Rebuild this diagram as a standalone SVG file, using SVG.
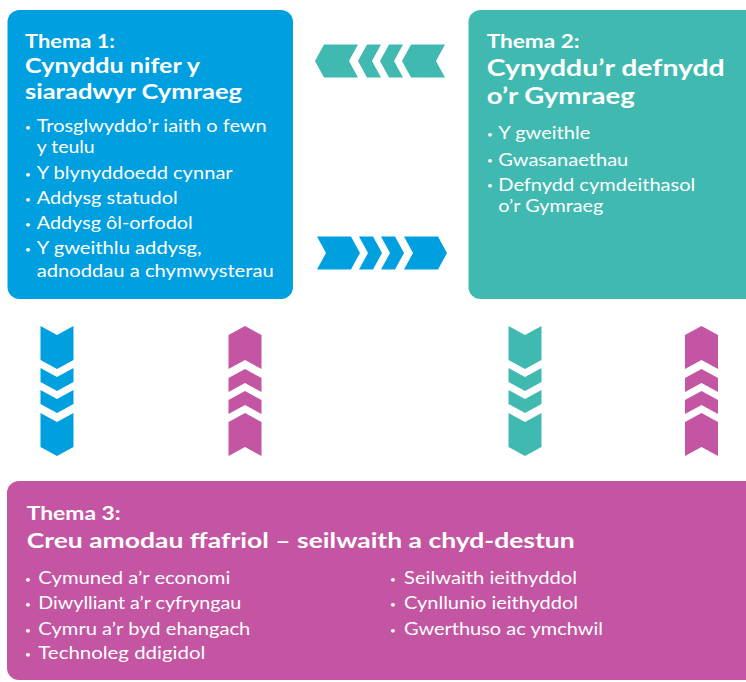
<svg xmlns="http://www.w3.org/2000/svg" width="746" height="682" viewBox="0 0 746 682">
<style>
text{font-family:Lato,"Open Sans","Liberation Sans",sans-serif;fill:#ffffff}
.th{font-weight:700;font-size:19px}
.t1{font-weight:700;font-size:21px}
.t2{font-weight:700;font-size:23px}
.t3{font-weight:700;font-size:21px}
.b{font-size:17.2px}
.dot{font-size:10px}
.blue{fill:#009fe0}
.teal{fill:#40bab1}
.mag{fill:#c455a2}
</style>
<defs>
<g id="chain">
<path d="M0,-16.5 L34,-16.5 L43,0 L34,16.5 L0,16.5 L9,0 Z"/>
<path d="M42,-16.5 L56,-16.5 L65,0 L56,16.5 L42,16.5 L51,0 Z"/>
<path d="M64,-16.5 L78,-16.5 L87,0 L78,16.5 L64,16.5 L73,0 Z"/>
<path d="M87,-16.5 L121,-16.5 L130,0 L121,16.5 L87,16.5 L96,0 Z"/>
</g>
</defs>

<g id="theme1">
<rect class="blue" x="7.5" y="10" width="285.5" height="289" rx="12"/>
<text class="th" x="25" y="47.7" textLength="90" lengthAdjust="spacingAndGlyphs">Thema 1:</text>
<text class="t1" x="25" y="72.7" textLength="175" lengthAdjust="spacingAndGlyphs">Cynyddu nifer y</text>
<text class="t1" x="25" y="99" textLength="217" lengthAdjust="spacingAndGlyphs">siaradwyr Cymraeg</text>
<text class="dot" x="25" y="131">•</text>
<text class="b" x="36.7" y="132.3" textLength="230" lengthAdjust="spacingAndGlyphs">Trosglwyddo’r iaith o fewn</text>
<text class="b" x="36.7" y="153" textLength="58" lengthAdjust="spacingAndGlyphs">y teulu</text>
<text class="dot" x="25" y="177.7">•</text>
<text class="b" x="36.7" y="179" textLength="196" lengthAdjust="spacingAndGlyphs">Y blynyddoedd cynnar</text>
<text class="dot" x="25" y="202.7">•</text>
<text class="b" x="36.7" y="204" textLength="141" lengthAdjust="spacingAndGlyphs">Addysg statudol</text>
<text class="dot" x="25" y="228">•</text>
<text class="b" x="36.7" y="229.3" textLength="156" lengthAdjust="spacingAndGlyphs">Addysg ôl-orfodol</text>
<text class="dot" x="25" y="252.7">•</text>
<text class="b" x="36.7" y="254" textLength="165" lengthAdjust="spacingAndGlyphs">Y gweithlu addysg,</text>
<text class="b" x="36.7" y="277.3" textLength="237" lengthAdjust="spacingAndGlyphs">adnoddau a chymwysterau</text>
</g>

<g id="theme2">
<rect class="teal" x="468.5" y="10" width="290" height="289" rx="12"/>
<text class="th" x="486.7" y="47.7" textLength="93" lengthAdjust="spacingAndGlyphs">Thema 2:</text>
<text class="t2" x="486.7" y="76" textLength="238" lengthAdjust="spacingAndGlyphs">Cynyddu’r defnydd</text>
<text class="t2" x="486.7" y="104.3" textLength="148" lengthAdjust="spacingAndGlyphs">o’r Gymraeg</text>
<text class="dot" x="487" y="138">•</text>
<text class="b" x="498.3" y="139.3" textLength="92" lengthAdjust="spacingAndGlyphs">Y gweithle</text>
<text class="dot" x="487" y="164.4">•</text>
<text class="b" x="498.3" y="165.7" textLength="130" lengthAdjust="spacingAndGlyphs">Gwasanaethau</text>
<text class="dot" x="487" y="189.4">•</text>
<text class="b" x="498.3" y="190.7" textLength="197" lengthAdjust="spacingAndGlyphs">Defnydd cymdeithasol</text>
<text class="b" x="498.3" y="212.3" textLength="105" lengthAdjust="spacingAndGlyphs">o’r Gymraeg</text>
</g>

<g id="theme3">
<rect class="mag" x="7" y="481" width="760" height="199" rx="12"/>
<text class="th" x="26.7" y="520" textLength="94" lengthAdjust="spacingAndGlyphs">Thema 3:</text>
<text class="t3" x="26.7" y="547.7" textLength="548" lengthAdjust="spacingAndGlyphs">Creu amodau ffafriol – seilwaith a chyd-destun</text>
<text class="dot" x="25" y="582.7">•</text>
<text class="b" x="38.3" y="584" textLength="192" lengthAdjust="spacingAndGlyphs">Cymuned a’r economi</text>
<text class="dot" x="25" y="608">•</text>
<text class="b" x="38.3" y="609.3" textLength="203" lengthAdjust="spacingAndGlyphs">Diwylliant a’r cyfryngau</text>
<text class="dot" x="25" y="633.7">•</text>
<text class="b" x="38.3" y="635" textLength="212" lengthAdjust="spacingAndGlyphs">Cymru a’r byd ehangach</text>
<text class="dot" x="25" y="658">•</text>
<text class="b" x="38.3" y="659.3" textLength="167" lengthAdjust="spacingAndGlyphs">Technoleg ddigidol</text>
<text class="dot" x="390" y="582.7">•</text>
<text class="b" x="404" y="584" textLength="173" lengthAdjust="spacingAndGlyphs">Seilwaith ieithyddol</text>
<text class="dot" x="390" y="608">•</text>
<text class="b" x="404" y="609.3" textLength="174" lengthAdjust="spacingAndGlyphs">Cynllunio ieithyddol</text>
<text class="dot" x="390" y="633.7">•</text>
<text class="b" x="404" y="635" textLength="199" lengthAdjust="spacingAndGlyphs">Gwerthuso ac ymchwil</text>
</g>

<g id="connectors">
<use href="#chain" class="teal" transform="translate(445,61) scale(-1,1)"/>
<use href="#chain" class="blue" transform="translate(317,253)"/>
<use href="#chain" class="blue" transform="translate(57,326) rotate(90)"/>
<use href="#chain" class="mag" transform="translate(245,456) rotate(-90)"/>
<use href="#chain" class="teal" transform="translate(525,326) rotate(90)"/>
<use href="#chain" class="mag" transform="translate(701.5,456) rotate(-90)"/>
</g>
</svg>
